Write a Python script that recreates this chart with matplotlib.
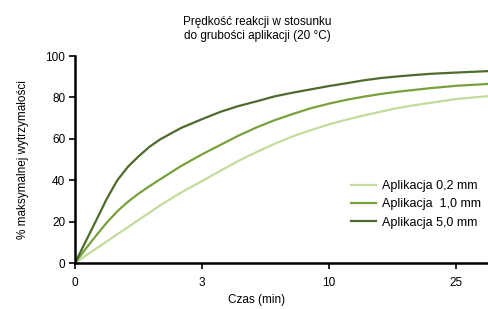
import numpy as np
import matplotlib
matplotlib.use("Agg")
import matplotlib.pyplot as plt

plt.rcParams["font.family"] = ["Liberation Sans", "DejaVu Sans"]

# czas w minutach
czas = [0, 0.25, 0.5, 0.75, 1, 1.25, 1.5, 1.75, 2, 2.5, 3, 4, 5, 6, 7, 8, 9, 10,
        12, 14, 16, 18, 20, 22, 25, 28.75]

aplikacja_02 = [0, 3.5, 7, 10.4, 13.9, 17.3, 20.8, 24.2, 27.7, 34, 39.6, 44.5, 49.3, 53.6, 57.6, 61.2, 64.2, 67,
                69.2, 71.2, 73, 74.8, 76.2, 77.4, 79.2, 80.6]
aplikacja_10 = [0, 6.8, 13.3, 19.5, 25, 29.6, 33.5, 37, 40.3, 46.8, 52.5, 57, 61.5, 65.5, 69, 72, 74.8, 77,
                78.8, 80.3, 81.6, 82.7, 83.6, 84.5, 85.6, 86.5]
aplikacja_50 = [0, 10.3, 20.6, 31, 40, 46.5, 51.5, 56, 59.6, 65.2, 69.5, 73, 75.8, 78.1, 80.5, 82.3, 83.9, 85.5,
                86.8, 88.2, 89.3, 90.1, 90.8, 91.4, 92, 92.7]

etykiety = ["Aplikacja 0,2 mm", "Aplikacja  1,0 mm", "Aplikacja 5,0 mm"]
kolory = ["#c3dc9c", "#78a13c", "#4d6b2b"]
x_ticks = [0, 3, 10, 25]

# os czasu: rowne odstepy miedzy 0, 3, 10, 25
t_pts = [0, 3, 10, 25, 40]
p_pts = [0, 1, 2, 3, 4]


def forward(t):
    return np.interp(t, t_pts, p_pts)


def inverse(p):
    return np.interp(p, p_pts, t_pts)


fig = plt.figure(figsize=(4.88, 3.09), dpi=100)
ax = fig.add_axes([75 / 488, 46 / 309, 413 / 488, 207 / 309])
ax.set_xscale("function", functions=(forward, inverse))

for y, lab, c in zip([aplikacja_02, aplikacja_10, aplikacja_50], etykiety, kolory):
    ax.plot(czas, y, color=c, lw=1.6, label=lab, solid_joinstyle="round")

ax.set_xlim(0, 28.75)
ax.set_ylim(0, 100)
ax.set_xticks(x_ticks)
ax.set_xticklabels([str(v) for v in x_ticks])
ax.set_yticks(range(0, 101, 20))
ax.minorticks_off()

for s in ["top", "right"]:
    ax.spines[s].set_visible(False)
for s in ["left", "bottom"]:
    ax.spines[s].set_linewidth(1.8)
ax.tick_params(direction="out", length=4, width=1.2, labelsize=8.5)
ax.tick_params(axis="x", pad=6)
ax.tick_params(axis="y", pad=3)

ax.set_xlabel("Czas (min)", fontsize=8.5)
ax.set_ylabel("% maksymalnej wytrzymałości", fontsize=8.5, labelpad=12)
ax.xaxis.set_label_coords((257 - 75) / 413, -0.15)

fig.text(257 / 488, 1 - 29 / 309, "Prędkość reakcji w stosunku\ndo grubości aplikacji (20 °C)",
         ha="center", va="center", fontsize=8.5, linespacing=1.3)

ax.legend(loc="upper left", bbox_to_anchor=(0.64, 0.455), frameon=False, fontsize=9,
          handlelength=2.0, handletextpad=0.5, labelspacing=0.5)

fig.savefig("out.png", dpi=100)
